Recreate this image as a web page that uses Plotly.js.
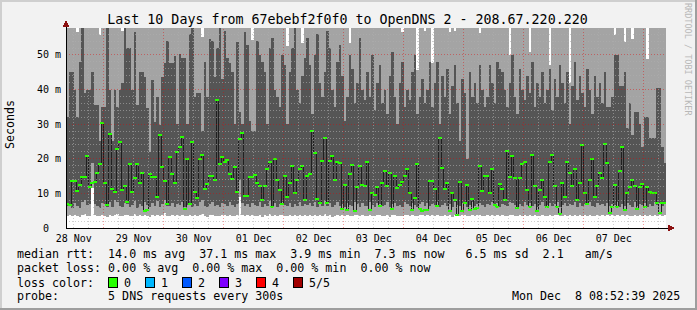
<!DOCTYPE html>
<html><head><meta charset="utf-8">
<script src="https://cdn.plot.ly/plotly-3.0.1.min.js"></script>
<style>
html,body{margin:0;padding:0;background:#f2f2f2;}
#chart{width:697px;height:310px;}
#chart path{shape-rendering:crispEdges;}
</style>
</head><body><div id="chart"></div>
<script>
// ---- data (hourly consolidated, 240 points, Nov 28 08:52 -> Dec 8 08:52) ----
const minRtt = [
3.5,3.8,3.4,3.9,3.6,3.3,3.7,4.0,3.5,3.6,11.5,3.8,3.4,3.5,3.9,3.6,3.3,3.7,3.5,3.8,4.1,3.6,3.4,3.7,
3.9,3.5,3.6,4.0,3.4,3.7,3.5,3.8,3.6,3.3,3.9,3.5,3.7,3.4,3.8,4.2,3.6,3.5,3.9,3.4,3.7,3.6,3.8,3.5,
3.6,3.9,3.4,3.7,3.5,3.8,4.0,3.6,3.3,3.7,3.9,3.5,3.6,3.4,3.8,3.7,3.5,3.9,3.6,3.4,3.7,9.0,3.8,3.5,
3.7,3.4,3.8,3.6,3.5,3.9,3.3,3.7,3.6,4.0,3.5,3.8,3.4,3.7,3.9,3.6,3.5,3.8,3.4,3.7,3.6,3.9,3.5,3.8,
3.6,3.8,3.5,3.9,3.4,3.7,3.6,4.1,3.5,3.8,3.3,3.6,3.9,3.5,3.7,3.4,3.8,3.6,3.5,3.9,3.7,3.4,3.8,3.6,
3.5,3.9,3.6,3.4,3.8,3.7,3.5,3.6,3.9,3.3,3.7,3.8,3.5,3.6,3.4,3.9,3.7,3.5,3.8,3.6,3.4,3.7,3.9,3.5,
3.8,3.5,3.7,3.6,3.9,3.4,3.6,3.8,3.5,3.7,3.3,3.9,3.6,3.5,3.8,3.7,3.4,3.6,3.9,3.5,3.7,3.8,3.6,3.4,
3.7,3.6,3.9,3.5,3.8,3.4,3.7,3.6,3.5,3.9,3.8,3.6,3.4,3.7,3.5,3.9,3.6,3.8,3.5,3.7,3.4,3.6,3.9,3.5,
3.6,3.8,3.5,3.7,3.9,3.4,3.6,3.8,3.5,3.7,3.6,3.9,3.4,3.8,3.5,3.7,3.6,3.9,3.5,3.4,3.8,3.6,3.7,3.5,
3.8,3.5,3.7,3.6,3.9,3.4,3.7,3.5,3.8,3.6,3.4,3.9,3.5,3.7,3.6,3.8,3.4,3.7,3.5,3.9,3.6,3.8,3.5,3.7
];
const lowBand = [
6.5,6.8,5.9,7.2,6.3,5.8,7.5,8.0,6.6,7.0,18.8,7.0,6.4,5.9,7.3,6.8,6.0,7.6,6.2,8.1,7.4,6.5,6.0,7.1,
7.0,6.2,6.6,7.8,5.9,6.9,6.3,7.4,6.7,6.0,7.2,6.4,7.7,6.1,6.8,8.2,6.5,6.3,7.1,6.0,6.9,6.6,7.5,6.2,
6.6,7.3,6.0,6.8,6.4,7.6,8.0,6.5,6.1,6.9,7.4,6.3,6.7,6.0,7.2,6.8,6.4,7.5,6.6,6.2,7.0,14.0,7.3,6.4,
6.8,6.1,7.2,6.6,6.4,7.5,6.0,6.9,6.5,7.8,6.3,7.1,6.0,6.8,7.4,6.6,6.3,7.2,6.1,6.9,6.5,7.6,6.4,7.0,
6.6,7.1,6.3,7.4,6.0,6.8,6.5,7.9,6.4,7.2,6.0,6.7,7.5,6.3,6.9,6.1,7.3,6.6,6.4,7.6,6.8,6.2,7.2,6.5,
6.4,7.5,6.6,6.1,7.2,6.9,6.3,6.7,7.6,6.0,6.8,7.3,6.4,6.6,6.2,7.5,6.9,6.3,7.1,6.6,6.1,6.8,7.4,6.4,
7.2,6.4,6.9,6.6,7.5,6.1,6.7,7.2,6.4,6.9,6.0,7.6,6.6,6.3,7.1,6.8,6.2,6.6,7.5,6.4,6.9,7.2,6.6,6.2,
6.9,6.6,7.5,6.3,7.2,6.1,6.8,6.6,6.4,7.5,7.2,6.6,6.2,6.9,6.4,7.6,6.6,7.1,6.3,6.9,6.1,6.6,7.4,6.4,
6.6,7.1,6.4,6.9,7.5,6.2,6.6,7.2,6.4,6.9,6.6,7.5,6.2,7.1,6.4,6.8,6.6,7.5,6.3,6.1,7.2,6.6,6.9,6.4,
7.1,6.4,6.9,6.6,7.5,6.2,6.8,6.4,7.2,6.6,6.2,7.5,6.4,6.9,6.6,7.1,6.2,6.9,6.4,7.5,6.6,7.1,6.4,6.9
];
const highBand = [
32,45,45,40,32,48,60,39,40,40,45,35.5,35.5,25,35,35,60,40,25,40,35,40,42,60,
52,52,40,56.6,35.5,45,45,43.6,34.7,22,42.8,30.6,38,29.8,43.6,47.7,54,47.7,47.7,49.7,30,50.3,49,49,
30,56,60,38,39,39,28,48,38,54.6,54,43.6,52,60,43,57,49,47.7,45,30,53.8,33.5,30,56.6,
52.9,31,28,28,54,50,48,45,30,52,55,40,38,35,50,47,30,45,52,58,40,36,44,49,
55,47,33,50,56,42,38,45,57,52,40,35,48,53,44,31,38,50,46,36,42,55,40,37,
45,38,50,34,42,47,36,40,33,44,51,38,30,42,48,35,40,37,45,50,33,38,43,36,
40,48,35,42,48,30,44,38,46,33,41,47,36,25,43,39,20,45,38,42,36,47,40,35,
38,47,42,36,48,46,45,40,35,42,50,38,33,46,40,37,44,39,48,35,42,38,45,36,
40,46,34,43,38,47,42,36,45,30,41,48,37,44,39,35,46,40,33,44,38,42,36,45,
35,35,38,50,50,41,41,45,29,36,27,33.5,33.5,30,23.4,32,32,26,26,26,40.5,40.5,23.4,18.8
];
const maxRtt = [
70,70,70,70,56.6,70,70,70,70,70,70,70,70,55.8,70,70,70,70,70,70,70,70,57,70,
70,70,70,70,70,70,70,70,70,70,70,70,70,70,70,70,70,70,70,70,70,70,70,70,
70,70,70,70,70,70,55.2,70,70,70,70,70,70,70,70,70,70,70,70,70,70,70,70,70,
70,70,54.3,70,70,70,70,70,70,70,70,70,70,70,70,70,52.7,70,70,70,70,70,53.5,70,
70,70,70,70,70,70,70,70,70,70,70,70,70,70,70,70,70,53.5,70,70,70,70,70,70,
70,70,70,70,70,70,70,70,70,70,70,70,70,70,56.6,70,70,70,70,70,45.7,70,70,56.8,
70,70,47.7,70,70,70,70,70,70,56.6,70,57,70,70,70,70,70,70,70,70,70,56.3,70,70,
70,70,70,70,70,70,70,70,70,50,70,70,70,70,70,70,70,51,70,70,70,70,70,70,
70,47,70,70,70,70,70,70,70,42,70,70,70,70,70,70,70,70,70,70,70,70,70,70,
70,70,70,55.8,70,70,70,53.8,70,70,54.5,70,70,70,70,70,48.8,70,70,70,70,70,70,70
];
const medianRtt = [
6.9,6.6,13.7,13.7,10.8,12.4,14.6,14.8,20.9,11.9,13.1,13.4,15.8,18.5,30.4,13.1,6.6,27.1,11.2,10.5,22.9,24.9,11,12.1,
7.6,18.4,10.5,14.5,18.4,13.1,16,5,5.2,15.6,14.6,14.6,9,26.9,17.7,13.6,6.8,20.5,15.6,12.9,22,23.5,26.4,5.6,
19.9,6.9,24.8,10.5,8.6,19.9,21.2,11.3,12.7,15,15,13.9,37.1,18.4,20.6,19,19.7,15.6,14.2,17.7,10.5,25.7,27.4,9.2,
9.2,14.8,14.6,15.3,13,12,8,12,17,19,6,20,14,11,7,15,9,13,18,10,14,17,17.9,8.1,
15,15.6,28.1,21.7,8.4,7.2,19.4,26.1,7.3,19.4,20.8,13.9,19.2,18.9,5.6,12.4,5.2,15.6,18.2,5,11.9,17.9,12.4,12.1,
19.1,5.2,10.2,9.5,11.8,6.4,13.1,16.5,12.1,16,5.6,15,11.6,12.4,13.3,15,17,10.1,5.2,8.8,18.5,5.5,4.9,5.2,
5.2,13.7,13.6,11.3,6.4,26.1,17.4,11.3,13.1,4.9,10.1,8.1,3.8,13.4,4.9,7.3,12.4,5.2,8.4,5.5,5.8,17.9,10.8,15,
15,10.2,17,6.6,6.2,12.7,11.3,8.1,22.3,14.8,20.8,14.4,5.7,14.4,18.5,19,11,6,21,12,5,11,14,9,
6,19,21,12,6,4,13,9,19,16,12,17,8,13,24,10,7,14,20,9,12,16,14.5,24.3,
18.8,4.3,6.1,12.4,6.1,16.5,23.4,5.2,10.1,11.8,13.9,12.1,5.5,11.8,12.7,6.1,11.8,10.4,10.1,10.1,7.2,4.3,7.2,7.3
];
const dayLabels = ['28 Nov','29 Nov','30 Nov','01 Dec','02 Dec','03 Dec','04 Dec','05 Dec','06 Dec','07 Dec'];
const yTickVals = [0,10,20,30,40,50];
const yTickText = ['0  ','10 m','20 m','30 m','40 m','50 m'];
const lossLabels = ['0','1','2','3','4','5/5'];
const lossColors = ['#26ff00','#00b8ff','#0059ff','#7e00ff','#ff0000','#a10000'];

const chartTitle = 'Last 10 Days from 67ebebf2f0f0 to OpenDNS 2 - 208.67.220.220';
const statLines = [
  'median rtt:  14.0 ms avg  37.1 ms max  3.9 ms min  7.3 ms now   6.5 ms sd  2.1   am/s',
  'packet loss: 0.00 % avg  0.00 % max  0.00 % min  0.00 % now',
  'loss color:',
  'probe:       5 DNS requests every 300s'
];
const stampText = 'Mon Dec  8 08:52:39 2025';

// ---- geometry helpers ----
const SPAN_H = 240;            // hours shown
const Y_TOP = 57.8;
const firstMidnight = 24 - (8 + 52/60 + 39/3600); // hours after start
const firstNoon = firstMidnight - 12;
const PL = 66, PW = 600, PT = 28, PH = 200;
const px = x => (x - PL) / PW;           // pixel -> paper x
const py = y => (PT + PH - y) / PH;       // pixel -> paper y
const nb = s => s.replace(/ /g, '\u00a0');
const mono = 'DejaVu Sans Mono, monospace';
const lightSmoke = '#a4a4a4', darkSmoke = '#555555';

const hours = medianRtt.map((_, i) => i);
const X = hours.concat([hours.length]);
const stepY = a => a.concat([a[a.length - 1]]);

const smoke = {type:'scatter', mode:'lines', x:X, line:{shape:'hv', width:0, color:'rgba(0,0,0,0)'}, hoverinfo:'skip', showlegend:false};
const traces = [
  Object.assign({}, smoke, {y: stepY(minRtt)}),
  Object.assign({}, smoke, {y: stepY(lowBand), fill:'tonexty', fillcolor:lightSmoke}),
  Object.assign({}, smoke, {y: stepY(highBand), fill:'tonexty', fillcolor:darkSmoke}),
  Object.assign({}, smoke, {y: stepY(maxRtt), fill:'tonexty', fillcolor:lightSmoke}),
  {type:'scatter', mode:'lines', x:X, y:stepY(medianRtt), line:{shape:'hv', width:1, color:'#202020'}, hoverinfo:'skip', showlegend:false},
  {type:'scatter', mode:'markers', x:hours.map(h => h + 0.5), y:medianRtt,
   marker:{symbol:'line-ew', size:3, color:lossColors[0], line:{color:lossColors[0], width:2}}, hoverinfo:'skip', showlegend:false}
];

const shapes = [];
const gridMinor = {color:'rgba(175,175,175,0.6)', width:1, dash:'1px,2px'};
const gridMajor = {color:'rgba(230,0,0,0.4)', width:1, dash:'1px,2px'};
for (let v = 2; v < Y_TOP; v += 2) {
  if (v % 10 === 0) continue;
  shapes.push({type:'line', xref:'paper', yref:'y', x0:0, x1:1, y0:v, y1:v, line:gridMinor, layer:'above'});
}
for (let h = firstNoon; h < SPAN_H; h += 6) {
  if (Math.abs(((h - firstMidnight) % 24 + 24) % 24) < 0.01) continue;
  shapes.push({type:'line', xref:'x', yref:'paper', x0:h, x1:h, y0:0, y1:1, line:gridMinor, layer:'above'});
}
yTickVals.filter(v => v > 0).forEach(v =>
  shapes.push({type:'line', xref:'paper', yref:'y', x0:0, x1:1, y0:v, y1:v, line:gridMajor, layer:'above'}));
for (let h = firstMidnight; h < SPAN_H; h += 24)
  shapes.push({type:'line', xref:'x', yref:'paper', x0:h, x1:h, y0:0, y1:1, line:gridMajor, layer:'above'});

// axes with arrows
const arrowCol = '#8b1010';
shapes.push({type:'line', xref:'paper', yref:'paper', x0:px(66), x1:px(670), y0:py(228), y1:py(228), line:{color:'#000', width:1}});
shapes.push({type:'line', xref:'paper', yref:'paper', x0:px(66), x1:px(66), y0:py(228), y1:py(24), line:{color:'#000', width:1}});
shapes.push({type:'path', xref:'paper', yref:'paper',
  path:`M${px(668)},${py(224.5)} L${px(675)},${py(228)} L${px(668)},${py(231.5)} Z`, fillcolor:arrowCol, line:{width:0}});
shapes.push({type:'path', xref:'paper', yref:'paper',
  path:`M${px(62.5)},${py(27)} L${px(66)},${py(20)} L${px(69.5)},${py(27)} Z`, fillcolor:arrowCol, line:{width:0}});

// outer frame
shapes.push({type:'rect', xref:'paper', yref:'paper', x0:px(0), x1:px(697), y0:py(0), y1:py(2), fillcolor:'#cfcfcf', line:{width:0}});
shapes.push({type:'rect', xref:'paper', yref:'paper', x0:px(0), x1:px(2), y0:py(0), y1:py(310), fillcolor:'#cfcfcf', line:{width:0}});
shapes.push({type:'rect', xref:'paper', yref:'paper', x0:px(695), x1:px(697), y0:py(0), y1:py(310), fillcolor:'#9e9e9e', line:{width:0}});
shapes.push({type:'rect', xref:'paper', yref:'paper', x0:px(0), x1:px(697), y0:py(308), y1:py(310), fillcolor:'#9e9e9e', line:{width:0}});

// loss colour boxes
const boxX = [108, 145, 182, 219, 256, 293];
lossColors.forEach((c, k) => shapes.push({type:'rect', xref:'paper', yref:'paper',
  x0:px(boxX[k]), x1:px(boxX[k] + 9), y0:py(277), y1:py(287), fillcolor:c, line:{color:'#000', width:1}}));

const legFont = {family:mono, size:11.65, color:'#000'};
const annotations = [];
const lineY = [254, 268, 282.5, 296];
statLines.forEach((t, k) => annotations.push({xref:'paper', yref:'paper', x:px(16), y:py(lineY[k]), text:nb(t),
  showarrow:false, xanchor:'left', yanchor:'middle', font:legFont, borderpad:0}));
lossLabels.forEach((t, k) => annotations.push({xref:'paper', yref:'paper', x:px(boxX[k] + 15), y:py(lineY[2]), text:t,
  showarrow:false, xanchor:'left', yanchor:'middle', font:legFont, borderpad:0}));
annotations.push({xref:'paper', yref:'paper', x:px(681), y:py(lineY[3]), text:nb(stampText), showarrow:false,
  xanchor:'right', yanchor:'middle', font:legFont, borderpad:0});
annotations.push({xref:'paper', yref:'paper', x:px(10), y:py(125), text:'Seconds', textangle:-90, showarrow:false,
  xanchor:'center', yanchor:'middle', font:legFont});
annotations.push({xref:'paper', yref:'paper', x:px(688), y:py(59), text:nb('RRDTOOL / TOBI OETIKER'), textangle:90, showarrow:false,
  xanchor:'center', yanchor:'middle', font:{family:mono, size:8.5, color:'#b8b8b8'}});

const noonVals = dayLabels.map((_, k) => firstNoon + 24 * k);

const layout = {
  width:697, height:310,
  margin:{l:PL, r:697 - PL - PW, t:PT, b:310 - PT - PH, pad:0},
  paper_bgcolor:'#f2f2f2', plot_bgcolor:'#ffffff',
  showlegend:false,
  title:{text:chartTitle, font:{family:mono, size:13.3, color:'#000'}, x:347.5/697, xref:'container', xanchor:'center',
         y:1 - 19/310, yref:'container', yanchor:'middle'},
  xaxis:{range:[0, SPAN_H], tickmode:'array', tickvals:noonVals, ticktext:dayLabels, showgrid:false, zeroline:false,
         showline:false, ticks:'', ticklabelstandoff:3, tickfont:{family:mono, size:10, color:'#000'}, fixedrange:true},
  yaxis:{range:[0, Y_TOP], tickmode:'array', tickvals:yTickVals, ticktext:yTickText.map(nb), showgrid:false, zeroline:false,
         showline:false, ticks:'', ticklabelstandoff:4, tickfont:{family:mono, size:10, color:'#000'}, fixedrange:true},
  shapes:shapes, annotations:annotations
};

Plotly.newPlot('chart', traces, layout, {staticPlot:true, displayModeBar:false});
</script>
</body></html>
